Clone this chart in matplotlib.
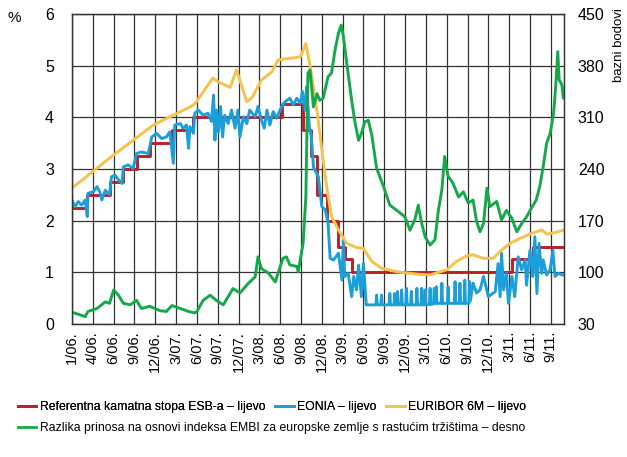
import numpy as np
import matplotlib.pyplot as plt
from matplotlib.lines import Line2D

plt.rcParams['font.family'] = ['Liberation Sans', 'DejaVu Sans']

# x os: mjeseci od početka 2006.
tick_labels = ['1/06.', '4/06.', '6/06.', '9/06.', '12/06.', '3/07.', '6/07.', '9/07.',
               '12/07.', '3/08.', '6/08.', '9/08.', '12/08.', '3/09.', '6/09.', '9/09.',
               '12/09.', '3/10.', '6/10.', '9/10.', '12/10.', '3/11.', '6/11.', '9/11.']
x_end = 70.9

# Referentna kamatna stopa ESB-a (stepenasto)
esb_m = [0, 2.2, 5.5, 7.3, 9.3, 11.3, 14.4, 17.4, 30.3, 33.3, 34.4, 35.3, 36.7, 38.3,
         39.3, 40.4, 63.4, 66.4, 70.9]
esb_v = [2.25, 2.5, 2.75, 3.0, 3.25, 3.5, 3.75, 4.0, 4.25, 3.75, 3.25, 2.5, 2.0, 1.5,
         1.25, 1.0, 1.25, 1.5, 1.5]

# EURIBOR 6M
eur_m = [0, 5.7, 11.7, 17.0, 17.7, 20.3, 21.0, 22.8, 23.7, 25.2, 26.0, 27.3, 28.8, 29.7,
         32.9, 33.7, 34.3, 35.3, 36.0, 36.7, 37.4, 38.4, 39.6, 41.0, 42.0, 43.2, 44.6,
         46.8, 50.1, 51.6, 54.0, 55.4, 56.9, 57.8, 59.3, 60.7, 61.9, 63.1, 64.6, 66.0,
         67.7, 68.4, 69.6, 70.9]
eur_v = [2.63, 3.24, 3.85, 4.20, 4.26, 4.76, 4.69, 4.58, 4.92, 4.30, 4.39, 4.72, 4.88, 5.11,
         5.17, 5.43, 5.01, 4.14, 3.37, 2.66, 2.08, 1.82, 1.56, 1.48, 1.46, 1.21, 1.08,
         1.01, 0.96, 0.95, 1.05, 1.21, 1.32, 1.34, 1.27, 1.27, 1.43, 1.56, 1.66, 1.74,
         1.82, 1.74, 1.77, 1.82]

# EONIA
eon_m = [0, 0.4, 0.9, 1.4, 1.9, 2.2, 2.3, 3.1, 3.6, 4.0, 4.3, 4.8, 5.4, 5.7, 6.2, 6.7,
         7.2, 7.4, 8.1, 8.8, 9.3, 10.0, 11.0, 11.5, 12.2, 12.9, 13.6, 14.1, 14.6, 14.8,
         15.6, 16.0, 16.5, 16.8, 17.0, 17.5, 17.7, 18.2, 18.9, 19.6, 20.1, 20.4, 20.6,
         20.8, 21.1, 21.4, 21.7, 22.0, 22.5, 23.0, 23.5, 23.9, 24.2, 24.7, 25.2, 25.6,
         26.4, 26.8, 27.3, 27.7, 28.1, 28.5, 29.0, 29.5, 30.2, 30.7, 31.4, 31.9, 32.4,
         32.9, 33.2, 33.6, 33.8, 34.2, 34.5, 34.8, 35.0, 35.5, 36.0, 36.5, 36.9, 37.2,
         37.7, 38.4, 38.9, 39.1, 39.3, 39.8, 40.3, 40.6, 41.0, 41.3, 41.7, 42.0, 42.4,
         43.8, 43.9, 44.0, 44.5, 44.6, 44.7, 45.7, 45.8, 45.9, 46.4, 46.5, 46.6,
         46.8, 46.9, 47.0, 47.4, 47.5, 47.6, 48.1, 48.2, 48.3, 48.8, 48.9, 49.0,
         49.6, 49.7, 49.8, 50.3, 50.4, 50.5, 50.8, 50.9, 51.0, 51.5, 51.6, 51.7,
         52.1, 52.2, 52.3, 52.4, 52.5, 52.6, 53.2, 53.3, 53.4, 54.1, 54.2, 54.3,
         55.1, 55.2, 55.3, 55.8, 55.9, 56.0, 56.5, 56.6, 56.7, 57.2, 57.3, 57.4,
         57.8, 58.3, 58.8, 59.3, 60.0, 61.0, 61.4, 61.7, 61.9, 62.2, 62.6, 62.9, 63.4,
         63.8, 64.3, 64.8, 65.3, 65.5, 66.0, 66.4, 66.7, 67.0, 67.3, 67.7, 67.9, 68.4,
         68.9, 69.3, 69.6, 70.1, 70.6, 70.9]
eon_v = [2.40, 2.27, 2.37, 2.30, 2.40, 2.08, 2.53, 2.56, 2.66, 2.56, 2.40, 2.59, 2.50, 2.85,
         2.88, 2.79, 2.72, 3.04, 3.08, 3.01, 3.30, 3.33, 3.30, 3.62, 3.69, 3.59, 3.62,
         3.72, 3.11, 3.85, 3.88, 3.79, 3.85, 3.40, 3.82, 3.69, 4.08, 4.14, 4.04, 4.08,
         3.92, 4.43, 3.56, 4.14, 3.72, 4.21, 3.62, 4.04, 3.88, 4.14, 3.79, 4.14, 3.62,
         4.01, 3.88, 4.14, 4.01, 4.21, 3.95, 3.79, 4.14, 3.85, 4.11, 3.98, 4.21, 4.30,
         4.37, 4.24, 4.37, 4.27, 4.50, 4.14, 4.59, 3.82, 3.62, 3.04, 2.98, 2.85, 2.27,
         2.21, 1.95, 1.27, 1.24, 1.37, 0.85, 1.63, 0.92, 0.98, 0.53, 0.92, 0.66, 1.14,
         0.53, 1.17, 0.37,
         0.37, 0.56, 0.37, 0.37, 0.56, 0.37, 0.37, 0.59, 0.37, 0.37, 0.59, 0.37,
         0.37, 0.63, 0.37, 0.37, 0.66, 0.37, 0.37, 0.69, 0.37, 0.37, 0.63, 0.37,
         0.37, 0.69, 0.37, 0.37, 0.69, 0.37, 0.37, 0.66, 0.37, 0.38, 0.69, 0.38,
         0.39, 0.69, 0.40, 0.40, 0.72, 0.40, 0.40, 0.79, 0.40, 0.40, 0.72, 0.40,
         0.40, 0.82, 0.40, 0.40, 0.79, 0.40, 0.40, 0.85, 0.40, 0.40, 0.82, 0.45,
         0.79, 0.60, 0.66, 0.92, 0.53, 0.63, 1.17, 0.53, 1.37, 0.66, 0.98, 0.40, 0.92,
         0.53, 1.30, 1.05, 1.24, 0.75, 1.43, 0.92, 1.69, 0.59, 1.56, 0.98, 1.24, 0.95,
         1.05, 1.43, 0.92, 0.98, 0.95, 0.95]

# EMBI razlika prinosa (desna os, bazni bodovi)
emb_m = [0, 1.9, 2.3, 3.6, 4.8, 5.4, 6.0, 6.7, 7.4, 8.4, 9.3, 10.0, 11.2, 12.7, 13.6,
         14.4, 15.6, 16.8, 17.7, 18.0, 18.9, 19.9, 20.8, 21.8, 23.2, 24.2, 25.4, 26.4,
         26.8, 27.3, 28.3, 29.3, 29.7, 30.4, 30.9, 31.4, 32.4, 32.6, 33.3, 33.7, 34.0,
         34.3, 34.8, 35.3, 35.7, 36.2, 36.9, 37.4, 37.9, 38.4, 38.8, 39.1, 39.6, 40.3,
         40.8, 41.3, 41.7, 42.2, 42.7, 43.2, 43.9, 44.9, 45.8, 46.8, 48.0, 48.7, 49.4,
         49.9, 50.4, 50.9, 51.6, 52.3, 52.8, 53.3, 53.7, 54.2, 54.9, 55.7, 56.4, 57.1,
         57.8, 58.3, 58.8, 59.3, 59.8, 60.2, 61.2, 61.9, 62.6, 63.4, 64.1, 64.8, 65.5,
         66.2, 66.9, 67.4, 67.9, 68.4, 68.9, 69.4, 69.7, 70.0, 70.2, 70.6, 70.8, 70.9]
emb_v = [46, 40, 47, 51, 60, 58, 76, 69, 58, 56, 62, 51, 54, 48, 47,
         55, 51, 47, 45, 47, 62, 69, 62, 56, 78, 72, 85, 94,
         121, 105, 99, 87, 99, 119, 121, 110, 108, 101, 139, 202, 370,
         374, 324, 342, 333, 336, 365, 370, 401, 424, 435, 420, 383, 333,
         302, 279, 288, 304, 306, 286, 241, 216, 191, 184, 175, 157, 171,
         191, 166, 148, 137, 144, 184, 212, 257, 230, 221, 202, 209, 194,
         198, 169, 155, 166, 214, 189, 196, 171, 184, 173, 155, 166, 175,
         187, 198, 216, 243, 275, 288, 315, 351, 399, 361, 354, 336, 349]

RED = '#b8202a'
BLUE = '#1a9fdb'
YELLOW = '#f5c24c'
GREEN = '#15a84a'
GRID = '#333333'

fig = plt.figure(figsize=(6.27, 4.57), dpi=100)
ax = fig.add_axes([72 / 627, 1 - 324 / 457, 492 / 627, 310 / 457])
ax2 = ax.twinx()

ax.step(esb_m, esb_v, where='post', color=RED, lw=2.1)
ax.plot(eon_m, eon_v, color=BLUE, lw=2.1)
ax.plot(eur_m, eur_v, color=YELLOW, lw=2.1)
ax2.plot(emb_m, emb_v, color=GREEN, lw=2.1)

ax.set_xlim(0, x_end)
ax.set_ylim(0, 6)
ax2.set_ylim(30, 450)
ax.set_xticks(np.arange(len(tick_labels)) * 3)
ax.set_xticklabels(tick_labels, rotation=90, va='top', ha='center')
ax.set_yticks(range(0, 7))
ax2.set_yticks(range(30, 451, 70))
ax.tick_params(axis='both', length=0)
ax.tick_params(axis='x', pad=5, labelsize=10.5)
ax.tick_params(axis='y', pad=13, labelsize=11.5)
ax2.tick_params(axis='y', length=0, labelsize=11.5, pad=10)
ax.grid(True, color=GRID, lw=0.9)
ax.set_axisbelow(True)
for a in (ax, ax2):
    for s in a.spines.values():
        s.set_color(GRID)
        s.set_linewidth(0.9)

fig.text(14 / 627, 1 - 18 / 457, '%', fontsize=11, ha='center', va='center')
fig.text(619 / 627, 1 - 8 / 457, 'bazni bodovi', fontsize=9.5, rotation=90,
         ha='center', va='top')

h1 = [Line2D([], [], color=c, lw=2) for c in (RED, BLUE, YELLOW)]
leg1 = fig.legend(h1, ['Referentna kamatna stopa ESB-a – lijevo', 'EONIA – lijevo',
                       'EURIBOR 6M – lijevo'],
                  loc='center left', bbox_to_anchor=(18 / 627, 1 - 407 / 457), ncol=3,
                  frameon=False, fontsize=8.8, handlelength=1.5, handletextpad=0.3,
                  columnspacing=0.8, borderaxespad=0, borderpad=0)
fig.legend([Line2D([], [], color=GREEN, lw=2)],
           ['Razlika prinosa na osnovi indeksa EMBI za europske zemlje s rastućim tržištima – desno'],
           loc='center left', bbox_to_anchor=(18 / 627, 1 - 428 / 457),
           frameon=False, fontsize=8.8, handlelength=1.5, handletextpad=0.3,
           borderaxespad=0, borderpad=0)
fig.add_artist(leg1)

fig.savefig('out.png', dpi=100)
